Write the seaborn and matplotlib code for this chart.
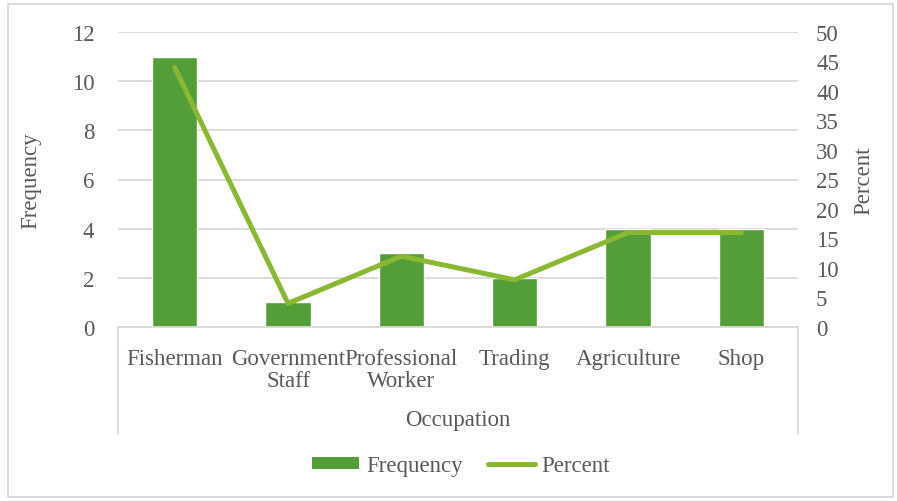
import numpy as np
import pandas as pd
import matplotlib
matplotlib.use("Agg")
import matplotlib.pyplot as plt
from matplotlib.lines import Line2D
from matplotlib.patches import Patch, Rectangle
import seaborn as sns

occupations = ["Fisherman", "Government\nStaff", "Professional\nWorker",
               "Trading", "Agriculture", "Shop"]
frequency = [11, 1, 3, 2, 4, 4]
percent = [44, 4, 12, 8, 16, 16]
freq_ticks = [0, 2, 4, 6, 8, 10, 12]
pct_ticks = [0, 5, 10, 15, 20, 25, 30, 35, 40, 45, 50]

BAR = "#549E39"
LINE = "#8AB833"
TEXT = "#595959"
GRID = "#D9D9D9"
FS = 16.5

sns.set_theme(style="white")
plt.rcParams["font.family"] = ["Liberation Serif", "DejaVu Serif"]
plt.rcParams["text.color"] = TEXT

df = pd.DataFrame({"Occupation": occupations, "Frequency": frequency,
                   "Percent": percent, "pos": np.arange(len(occupations))})

W, H = 897, 502
fig = plt.figure(figsize=(W / 100, H / 100), dpi=100)
fig.patch.set_facecolor("white")

x0, x1, y_top, y_bot = 118, 798, 33, 328
ax = fig.add_axes([x0 / W, (H - y_bot) / H, (x1 - x0) / W, (y_bot - y_top) / H])

sns.barplot(data=df, x="pos", y="Frequency", color=BAR, width=0.4,
            saturation=1, ax=ax, zorder=2)
ax.set_xlim(-0.5, len(occupations) - 0.5)
ax.set_ylim(0, 12)
ax.set_yticks(freq_ticks)
ax.yaxis.grid(True, color=GRID, linewidth=1.3, zorder=0)
ax.set_axisbelow(True)
ax.set_xticks(range(len(occupations)))
ax.set_xticklabels(occupations, fontsize=FS, color=TEXT, linespacing=1.08,
                   va="top")
ax.tick_params(axis="x", length=0, pad=15)
ax.tick_params(axis="y", length=0, pad=17, labelsize=FS, labelcolor=TEXT)
ax.set_xlabel("")
ax.set_ylabel("Frequency", fontsize=FS, color=TEXT, labelpad=22)
for s in ["top", "right", "left"]:
    ax.spines[s].set_visible(False)
ax.spines["bottom"].set_color(GRID)
ax.spines["bottom"].set_linewidth(1.3)

ax2 = ax.twinx()
sns.lineplot(data=df, x="pos", y="Percent", color=LINE, linewidth=3.6,
             ax=ax2, solid_capstyle="round", zorder=3)
ax2.set_ylim(0, 50)
ax2.set_yticks(pct_ticks)
ax2.tick_params(axis="y", length=0, pad=13, labelsize=FS, labelcolor=TEXT)
ax2.set_ylabel("Percent", fontsize=FS, color=TEXT, rotation=90, labelpad=10)
ax2.set_xlabel("")
for s in ax2.spines.values():
    s.set_visible(False)
ax2.grid(False)

# outer edges of the category axis block
depth = (435 - y_bot) / (y_bot - y_top)
for xa in (0, 1):
    ax.add_line(Line2D([xa, xa], [0, -depth], transform=ax.transAxes,
                       color=GRID, linewidth=1.3, clip_on=False))
ax.text(0.5, -(421 - y_bot) / (y_bot - y_top), "Occupation",
        transform=ax.transAxes, ha="center", va="center",
        fontsize=FS, color=TEXT)

handles = [Patch(facecolor=BAR, edgecolor="none"),
           Line2D([0], [0], color=LINE, linewidth=3.6, solid_capstyle="round")]
fig.legend(handles, ["Frequency", "Percent"], loc="center",
           bbox_to_anchor=(461 / W, (H - 467) / H), ncol=2, frameon=False,
           fontsize=FS, handlelength=2.05, handleheight=0.45,
           handletextpad=0.3, columnspacing=1.1, labelcolor=TEXT)

fig.add_artist(Rectangle((8 / W, 4 / H), (885 / W), (493 / H),
                         transform=fig.transFigure, fill=False,
                         edgecolor=GRID, linewidth=1.3))

fig.savefig("out.png", dpi=100)
